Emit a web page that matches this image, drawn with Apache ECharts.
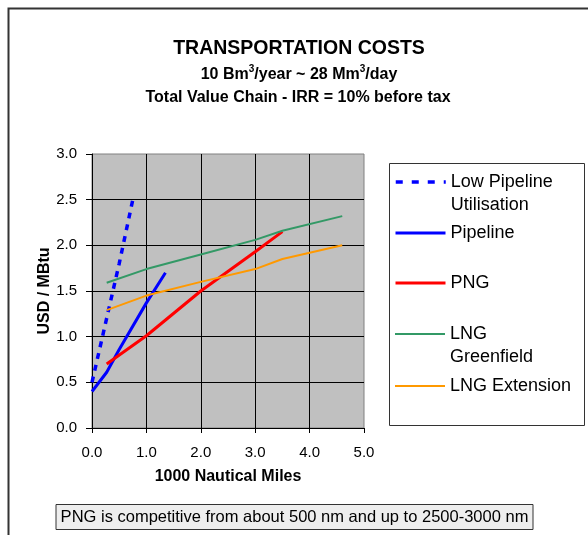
<!DOCTYPE html>
<html>
<head>
<meta charset="utf-8">
<script src="https://cdn.jsdelivr.net/npm/echarts@6/dist/echarts.min.js"></script>
<style>
  html, body { margin: 0; padding: 0; background: #fff; }
  #chart { width: 588px; height: 535px; }
</style>
</head>
<body>
<div id="chart"></div>
<script>
// Distance in thousands of nautical miles vs cost in USD/MBtu
var seriesNames = ['Low Pipeline Utilisation', 'Pipeline', 'PNG', 'LNG Greenfield', 'LNG Extension'];

var lowPipelineUtilisation = [[0, 0.5], [0.25, 1.15], [0.5, 1.8], [0.75, 2.5]];
var pipeline = [[0, 0.4], [0.27, 0.61], [0.5, 0.86], [1.0, 1.37], [1.35, 1.7]];
var png = [[0.27, 0.70], [1.0, 1.01], [2.0, 1.5], [3.0, 1.93], [3.5, 2.15]];
var lngGreenfield = [[0.27, 1.59], [1.0, 1.74], [2.0, 1.9], [3.0, 2.06], [3.5, 2.16], [4.6, 2.32]];
var lngExtension = [[0.27, 1.29], [1.0, 1.45], [2.0, 1.6], [3.0, 1.74], [3.5, 1.85], [4.6, 2.0]];

var xTicks = [0, 1, 2, 3, 4, 5];
var yTicks = [0, 0.5, 1, 1.5, 2, 2.5, 3];

var FONT = '"Liberation Sans", Arial, sans-serif';

// per-series line styling
var seriesColors = ['#0000FF', '#0000FF', '#FF0000', '#339966', '#FF9900'];
var seriesWidths = [3.5, 3, 3, 2, 2];
var seriesDash = [[6, 6], 'solid', 'solid', 'solid', 'solid'];

// legend labels; a blank first line keeps the icon beside the first text line
var legendLabels = {
  'Low Pipeline Utilisation': ' \nLow Pipeline\nUtilisation',
  'Pipeline': 'Pipeline',
  'PNG': 'PNG',
  'LNG Greenfield': ' \nLNG\nGreenfield',
  'LNG Extension': 'LNG Extension'
};
var legendTops = [147.5, 221.5, 271.5, 299.5, 374.5];

var chart = echarts.init(document.getElementById('chart'), null, { renderer: 'canvas' });

function legendFor(name, i) {
  return {
    data: [name],
    left: 394,
    top: legendTops[i],
    padding: 0,
    orient: 'vertical',
    itemWidth: 50,
    itemHeight: 10,
    selectedMode: false,
    // hide the marker dot, keep only the line sample
    itemStyle: { opacity: 0 },
    lineStyle: {
      width: seriesWidths[i],
      type: i === 0 ? [7, 9] : 'solid'
    },
    formatter: function (n) { return legendLabels[n]; },
    textStyle: { fontFamily: FONT, fontSize: 18, color: '#000', lineHeight: 23 }
  };
}

function lineSeries(name, data, i) {
  return {
    name: name,
    type: 'line',
    data: data,
    showSymbol: false,
    symbol: 'none',
    silent: true,
    lineStyle: { color: seriesColors[i], width: seriesWidths[i], type: seriesDash[i], cap: 'butt' },
    itemStyle: { color: seriesColors[i] },
    z: 3
  };
}

var option = {
  animation: false,
  backgroundColor: '#fff',
  title: [
    {
      text: 'TRANSPORTATION COSTS',
      left: 299, top: 37, padding: 0, textAlign: 'center',
      textStyle: { fontFamily: FONT, fontSize: 19.5, fontWeight: 'bold', color: '#000', lineHeight: 24 }
    },
    {
      text: '10 Bm{sup|3}/year ~ 28 Mm{sup|3}/day',
      left: 299, top: 64, padding: 0, textAlign: 'center',
      textStyle: {
        fontFamily: FONT, fontSize: 16, fontWeight: 'bold', color: '#000', lineHeight: 22,
        rich: {
          sup: { fontFamily: FONT, fontSize: 10, fontWeight: 'bold', color: '#000', lineHeight: 12, verticalAlign: 'top' }
        }
      }
    },
    {
      text: 'Total Value Chain - IRR = 10% before tax',
      left: 298, top: 87, padding: 0, textAlign: 'center',
      textStyle: { fontFamily: FONT, fontSize: 16, fontWeight: 'bold', color: '#000', lineHeight: 22 }
    },
    {
      text: 'PNG is competitive from about 500 nm and up to 2500-3000 nm',
      left: 289.5, top: 504, textAlign: 'center',
      padding: [4, 5, 3, 5],
      backgroundColor: '#EEEEEE',
      borderColor: '#333',
      borderWidth: 1,
      textStyle: { fontFamily: FONT, fontSize: 16.5, fontWeight: 'normal', color: '#000', lineHeight: 19 }
    }
  ],
  legend: seriesNames.map(legendFor),
  grid: {
    left: 92, right: 224, top: 154, bottom: 107,
    show: true,
    backgroundColor: '#C0C0C0',
    borderColor: '#808080',
    borderWidth: 1
  },
  xAxis: {
    type: 'value',
    min: xTicks[0], max: xTicks[xTicks.length - 1], interval: 1,
    name: '1000 Nautical Miles',
    nameLocation: 'middle',
    nameGap: 41,
    nameTextStyle: { fontFamily: FONT, fontSize: 16, fontWeight: 'bold', color: '#000' },
    axisLine: { show: true, onZero: false, lineStyle: { color: '#000', width: 1 } },
    axisTick: { show: true, inside: false, length: 5, lineStyle: { color: '#000' } },
    axisLabel: {
      margin: 17, fontFamily: FONT, fontSize: 15, color: '#000',
      formatter: function (v) { return v.toFixed(1); }
    },
    splitLine: { show: true, showMinLine: false, showMaxLine: false, lineStyle: { color: '#000', width: 1 } }
  },
  yAxis: {
    type: 'value',
    min: yTicks[0], max: yTicks[yTicks.length - 1], interval: 0.5,
    name: 'USD / MBtu',
    nameLocation: 'middle',
    nameGap: 37,
    nameTextStyle: { fontFamily: FONT, fontSize: 16, fontWeight: 'bold', color: '#000' },
    axisLine: { show: true, lineStyle: { color: '#000', width: 1 } },
    axisTick: { show: true, inside: false, length: 6, lineStyle: { color: '#000' } },
    axisLabel: {
      margin: 15, fontFamily: FONT, fontSize: 15, color: '#000',
      formatter: function (v) { return v.toFixed(1); }
    },
    splitLine: { show: true, showMinLine: false, showMaxLine: false, lineStyle: { color: '#000', width: 1 } }
  },
  graphic: [
    // outer chart frame
    {
      type: 'rect', left: 6, top: 6, z: -10, silent: true,
      shape: { width: 640, height: 600 },
      style: { fill: null, stroke: '#333', lineWidth: 2 }
    },
    // legend frame
    {
      type: 'rect', left: 389, top: 163, z: 1, silent: true,
      shape: { width: 195, height: 262 },
      style: { fill: '#fff', stroke: '#333', lineWidth: 1 }
    }
  ],
  series: seriesNames.map(function (n, i) {
    return lineSeries(n, [lowPipelineUtilisation, pipeline, png, lngGreenfield, lngExtension][i], i);
  })
};

chart.setOption(option);
</script>
</body>
</html>
